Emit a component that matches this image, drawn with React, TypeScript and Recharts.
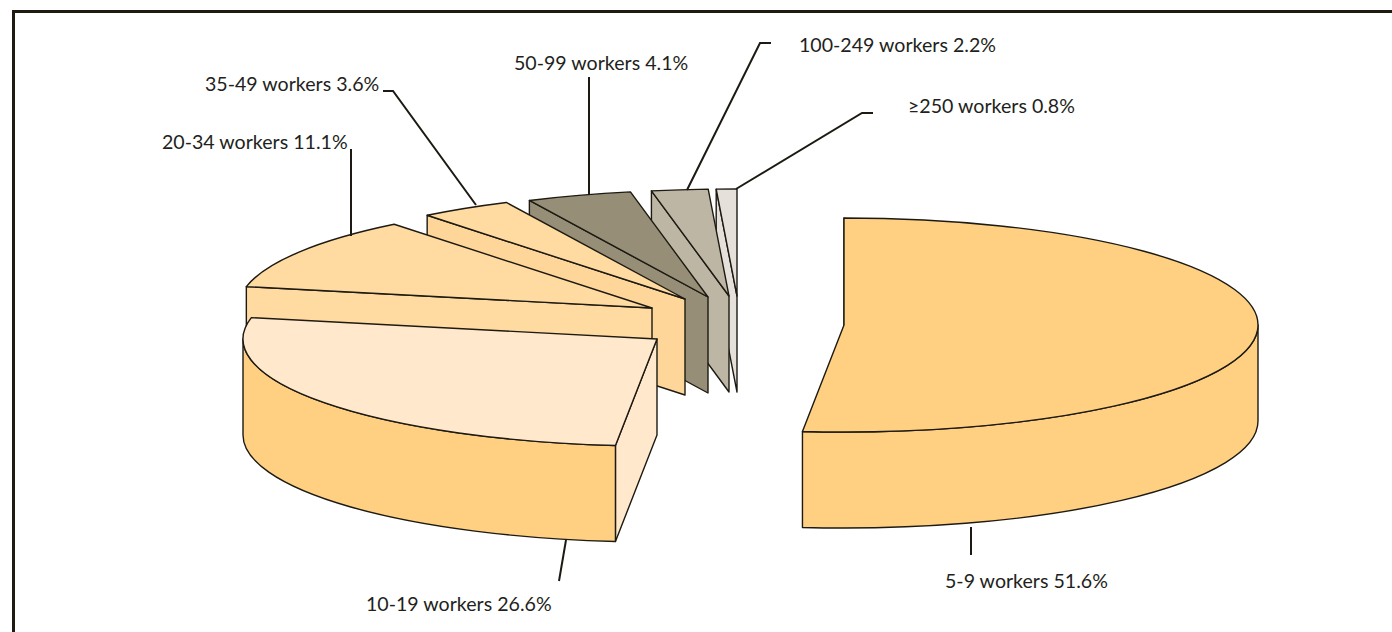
import { PieChart, Pie } from "recharts"

const categories = ["5-9 workers", "10-19 workers", "20-34 workers", "35-49 workers", "50-99 workers", "100-249 workers", "≥250 workers"]
const shares = [51.6, 26.6, 11.1, 3.6, 4.1, 2.2, 0.8]

const topColors = ["#FFCF82", "#FFE8CB", "#FFDBA1", "#FFDBA1", "#968E76", "#BDB6A4", "#E5E1DA"]
const wallColors = ["#FFCF82", "#FFCF82", "#FFDBA1", "#FFDBA1", "#968E76", "#BDB6A4", "#E5E1DA"]
const faceColors = ["#FFCF82", "#FFE8CB", "#FFDBA1", "#FFD699", "#968E76", "#BDB6A4", "#E5E1DA"]

// how far each slice is pulled out of the pie, in px
const explodeX = [0, -187, -192, -159, -136, -115, -107]
const explodeY = [0, 14, -17, -26, -28, -29, -29]

// leader lines and label anchors, same order as categories
const leaders = [
  [[971, 527], [971, 555]],
  [[566, 540], [559, 581]],
  [[351, 236], [351, 149]],
  [[476, 205], [393, 91], [383, 91]],
  [[589, 195], [589, 77]],
  [[687, 190], [760, 43], [771, 43]],
  [[736, 189], [862, 113], [873, 113]],
]
const labelX = [945, 366, 162, 205, 514, 799, 908]
const labelY = [588, 611, 149, 91, 70, 52, 113]

const RX = 414
const RY = 107
const DEPTH = 96
const LINE = "#1c1a12"

// painted back to front, so the pie runs counter-clockwise from the smallest slice
const table = categories
  .map((name, i) => ({ name, value: shares[i], i }))
  .reverse()

function Slice3D(props: any) {
  const { cx, cy, startAngle, endAngle, payload } = props
  const i = payload.i
  const ox = cx + explodeX[i]
  const oy = cy + explodeY[i]
  const pt = (deg: number, down = 0) => {
    const a = (deg * Math.PI) / 180
    return `${ox + RX * Math.cos(a)} ${oy - RY * Math.sin(a) + down}`
  }
  const a0 = Math.min(startAngle, endAngle)
  const a1 = Math.max(startAngle, endAngle)
  const large = a1 - a0 > 180 ? 1 : 0

  const top = `M${ox} ${oy} L${pt(a0)} A${RX} ${RY} 0 ${large} 0 ${pt(a1)} Z`
  const face = `M${ox} ${oy} L${pt(a1)} L${pt(a1, DEPTH)} L${ox} ${oy + DEPTH} Z`
  const w0 = Math.max(a0, 180)
  const w1 = Math.min(a1, 360)
  const wall =
    w0 < w1
      ? `M${pt(w0)} A${RX} ${RY} 0 0 0 ${pt(w1)} L${pt(w1, DEPTH)} A${RX} ${RY} 0 0 1 ${pt(w0, DEPTH)} Z`
      : null

  return (
    <g stroke={LINE} strokeWidth={1.4} strokeLinejoin="round">
      <path d={face} fill={faceColors[i]} />
      {wall && <path d={wall} fill={wallColors[i]} />}
      <path d={top} fill={topColors[i]} />
    </g>
  )
}

function renderLabel(props: any) {
  const i = props.payload.i
  return (
    <text
      key={categories[i]}
      x={labelX[i]}
      y={labelY[i]}
      textAnchor="start"
      fontFamily="Lato, 'Open Sans', sans-serif"
      fontSize={19.6}
      fill="#231f20"
    >
      {`${categories[i]} ${shares[i].toFixed(1)}%`}
    </text>
  )
}

function renderLine(props: any) {
  const i = props.payload.i
  return (
    <polyline
      key={categories[i]}
      points={leaders[i].map((p) => p.join(",")).join(" ")}
      fill="none"
      stroke={LINE}
      strokeWidth={2}
    />
  )
}

export default function App() {
  return (
    <div style={{ position: "absolute", left: 0, top: 0, width: 1392, height: 632, background: "#fff", overflow: "hidden" }}>
      <div style={{ position: "absolute", left: 12, top: 10, width: 1400, height: 700, borderLeft: "3px solid #1f1b10", borderTop: "3px solid #1f1b10" }} />
      <div style={{ position: "absolute", left: 0, top: 0 }}>
        <PieChart width={1392} height={632} margin={{ top: 0, right: 0, bottom: 0, left: 0 }}>
          <Pie
            data={table}
            dataKey="value"
            nameKey="name"
            cx={844}
            cy={325}
            outerRadius={RX}
            startAngle={90}
            endAngle={450}
            paddingAngle={0}
            shape={Slice3D}
            label={renderLabel}
            labelLine={renderLine}
            isAnimationActive={false}
          />
        </PieChart>
      </div>
    </div>
  )
}
